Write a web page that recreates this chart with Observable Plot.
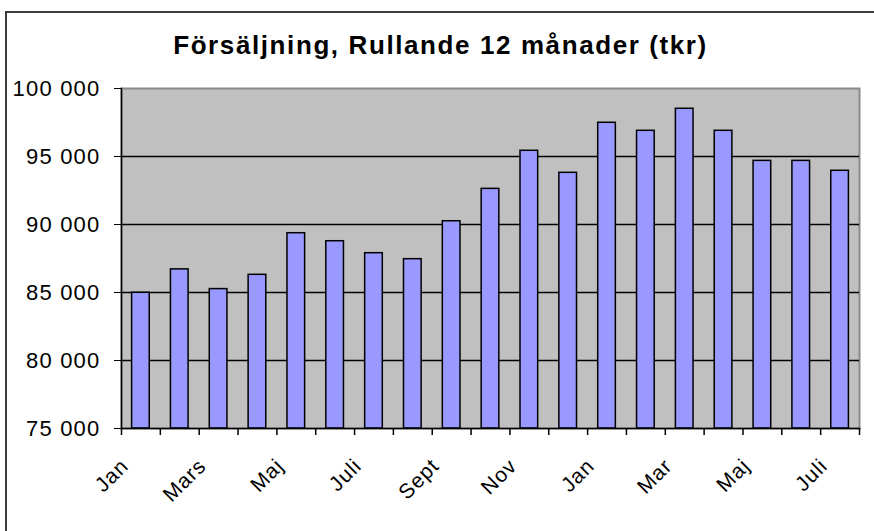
<!DOCTYPE html>
<html><head><meta charset="utf-8">
<script src="https://cdn.jsdelivr.net/npm/d3@7"></script>
<script src="https://cdn.jsdelivr.net/npm/@observablehq/plot@0.6"></script>
<style>
html,body{margin:0;padding:0;background:#fff;width:874px;height:531px;overflow:hidden;font-family:"Liberation Sans",Arial,sans-serif;}
#wrap{position:absolute;left:5px;top:11px;right:0;bottom:-10px;border-left:2px solid #3c3c3c;border-top:2px solid #3c3c3c;}
#title{height:59px;box-sizing:border-box;padding-top:17px;text-align:center;font-weight:bold;font-size:26px;letter-spacing:1.6px;line-height:30px;color:#000;}
#chart svg{display:block;}
#chart g[aria-label="y-axis tick label"] text{letter-spacing:1.2px;}
#chart g[aria-label="x-axis tick label"] text{letter-spacing:1px;}
</style></head><body>
<div id="wrap"><div id="title">Försäljning, Rullande 12 månader (tkr)</div><div id="chart"></div></div>
<script>
const months = ["Jan","Feb","Mars","Apr","Maj","Juni","Juli","Aug","Sept","Okt","Nov","Dec","Jan","Feb","Mar","Apr","Maj","Juni","Juli"];
const sales = [84980,86700,85250,86300,89360,88770,87890,87450,90240,92620,95420,93800,97480,96890,98510,96890,94680,94680,93950];
const yTicks = [75000,80000,85000,90000,95000,100000];
const labelTicks = [0,2,4,6,8,10,12,14,16,18];

const data = months.map((m,i)=>({i, m, v: sales[i]}));
const W=867, H=459, mL=114, mR=15, mT=16, mB=103;
const step=(W-mL-mR)/months.length;
const fmt = d => d3.format(",")(d).replace(/,/g," ");

const chart = Plot.plot({
  width:W, height:H, marginLeft:mL, marginRight:mR, marginTop:mT, marginBottom:mB,
  style:{fontFamily:'"Liberation Sans",Arial,sans-serif', background:"transparent", color:"#000"},
  x:{type:"band", domain:d3.range(months.length), paddingInner:0.5455, paddingOuter:0.2727, align:0.5, round:false, axis:null, label:null},
  y:{domain:[75000,100000], axis:null, label:null},
  marks:[
    Plot.frame({fill:"#C0C0C0", stroke:"#8a8a8a", strokeWidth:2}),
    Plot.ruleY(yTicks.slice(1,-1), {stroke:"#000", strokeWidth:1.3}),
    Plot.barY(data,{x:"i", y1:75000, y2:"v", fill:"#9999FF", stroke:"#000", strokeWidth:1.5}),
    Plot.frame({anchor:"left", stroke:"#000", strokeWidth:1.5}),
    Plot.frame({anchor:"bottom", stroke:"#000", strokeWidth:1.5}),
    Plot.axisY({ticks:yTicks, tickSize:7, tickPadding:14, tickFormat:fmt, fontSize:22, stroke:"#000", label:null}),
    Plot.ruleX(data, {x:"i", dx:-step/2, y1:75000, y2:75000, insetBottom:-7, stroke:"#000", strokeWidth:1.5}),
    Plot.ruleX([months.length-1], {x:d=>d, dx:step/2, y1:75000, y2:75000, insetBottom:-7, stroke:"#000", strokeWidth:1.5}),
    Plot.axisX({ticks:labelTicks, tickSize:0, tickRotate:-45, tickPadding:34, dx:-16, tickFormat:i=>months[i], fontSize:21, label:null})
  ]
});
document.getElementById("chart").appendChild(chart);
</script>
</body></html>
